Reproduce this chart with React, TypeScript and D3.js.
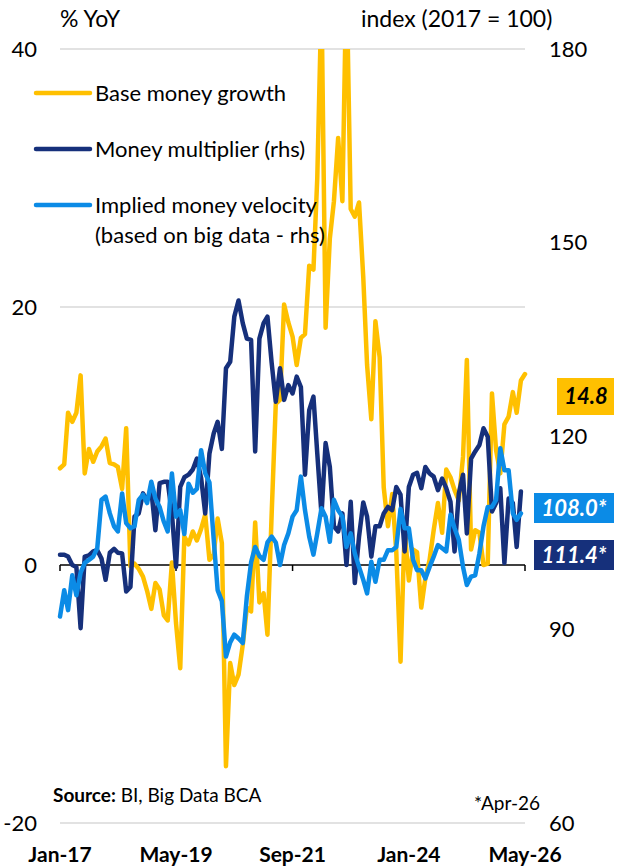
import React from 'react';
import * as d3 from 'd3';

// monthly, Jan-17 .. May-26 (% YoY)
const baseMoney = [
  7.5, 7.8, 11.8, 11.1, 11.8, 14.7, 7.1, 9.0, 8.0, 8.8, 9.2, 9.8,
  7.9, 7.8, 7.6, 5.9, 10.6, -0.1, 0.1, -0.3, -0.9, -2.0, -3.4, -1.4,
  -1.9, -3.9, -4.3, 0.2, -4.5, -8.0, 2.2, 1.6, 2.6, 1.9, 2.8, 3.9,
  0.4, 0.8, 3.6, 1.7, -15.6, -7.6, -9.3, -8.5, -6.2, -3.3, -3.6, 3.3,
  -2.9, -2.2, -5.4, 4.0, 12.5, 12.8, 20.2, 18.8, 17.7, 15.5, 17.6, 17.9,
  23.2, 22.9, 30.0, 44, 18.4, 25.3, 28.2, 33.1, 28.2, 46, 27.6, 27.0,
  28.1, 22.3, 15.5, 11.3, 18.9, 16.1, 6.0, 3.0, 5.5, 1.0, -7.5, 2.7,
  -1.2, 1.2, 1.0, -3.3, -1.0, 0.4, 2.7, 4.8, 2.5, 7.4, 6.8, 5.8,
  5.0, 8.4, 15.9, 1.2, 2.7, 2.5, 0.0, 0.1, 13.3, 8.9, 7.1, 10.9,
  11.5, 13.4, 11.8, 14.3, 14.8,
];

// index (2017 = 100), Jan-17 .. Apr-26
const multiplier = [
  101.6, 101.6, 101.3, 100.0, 99.7, 90.2, 101.3, 101.5, 102.1, 102.3, 101.0, 97.7,
  101.9, 102.5, 101.9, 101.8, 95.9, 96.6, 107.5, 108.0, 111.1, 110.1, 111.6, 105.4,
  112.7, 112.9, 112.9, 108.0, 99.7, 112.1, 113.6, 114.0, 114.8, 116.5, 113.5, 108.0,
  117.3, 120.4, 122.2, 118.0, 130.5, 131.5, 138.5, 141.0, 137.5, 135.1, 134.9, 117.6,
  135.1, 137.5, 138.5, 131.3, 125.3, 130.5, 125.6, 127.9, 126.6, 129.2, 127.6, 114.0,
  124.0, 126.1, 117.3, 107.8, 118.9, 115.2, 106.0, 105.2, 108.0, 100.0, 109.8, 97.2,
  104.4, 109.7, 107.5, 101.3, 106.0, 106.0, 108.0, 109.0, 108.5, 112.1, 110.9, 102.1,
  112.1, 114.0, 114.3, 111.9, 115.2, 114.2, 113.7, 111.6, 113.4, 111.9, 109.8, 102.1,
  111.1, 114.0, 104.9, 116.5, 117.6, 118.6, 121.2, 119.9, 108.3, 109.6, 111.9, 100.3,
  110.3, 109.6, 102.8, 111.4,
];

const velocity = [
  92.0, 96.1, 93.0, 98.4, 95.3, 98.8, 100.3, 100.8, 101.3, 102.6, 110.1, 110.6,
  108.0, 106.0, 105.2, 111.1, 106.5, 105.7, 106.0, 110.1, 110.9, 109.6, 112.9, 110.3,
  109.0, 106.7, 105.2, 114.2, 107.5, 108.5, 104.8, 112.6, 111.2, 111.8, 117.8, 114.2,
  112.8, 104.0, 96.1, 94.4, 85.8, 88.0, 89.2, 88.6, 87.9, 95.1, 100.4, 102.8,
  101.4, 100.8, 103.5, 104.4, 103.5, 100.0, 103.1, 104.9, 107.5, 108.5, 113.7, 108.5,
  104.4, 101.6, 104.9, 108.8, 107.5, 103.6, 110.1, 108.5, 107.5, 102.8, 104.9, 101.8,
  99.7, 97.7, 95.6, 100.5, 97.4, 100.8, 100.8, 102.3, 102.3, 102.8, 108.7, 105.7,
  105.7, 100.8, 99.2, 99.2, 97.9, 99.7, 101.3, 103.1, 102.6, 102.1, 107.8, 105.7,
  103.9, 99.7, 96.9, 98.2, 98.4, 101.8, 106.0, 109.0, 109.0, 110.1, 118.1, 114.7,
  114.7, 108.0, 107.0, 108.0,
];

const xTickLabels = ['Jan-17', 'May-19', 'Sep-21', 'Jan-24', 'May-26'];
const leftTicks = [-20, 0, 20, 40];
const rightTicks = [60, 90, 120, 150, 180];

const YELLOW = '#FFC000';
const NAVY = '#16307B';
const SKY = '#0B8BE6';
const FONT = "Lato, 'Liberation Sans', sans-serif";

const parseM = d3.timeParse('%b-%y');
const start = new Date(2017, 0, 1);
const months = d3.range(baseMoney.length).map((i) => d3.timeMonth.offset(start, i));

const App = () => {
  const margin = { top: 49, right: 92, bottom: 43, left: 60 };
  const width = 617;
  const height = 866;
  const plotBottom = height - margin.bottom;

  const x = d3.scaleTime()
    .domain([start, parseM('May-26') as Date])
    .range([margin.left, width - margin.right]);
  const yL = d3.scaleLinear().domain([-20, 40]).range([plotBottom, margin.top]);
  const yR = d3.scaleLinear().domain([60, 180]).range([plotBottom, margin.top]);

  const lineL = d3.line<number>()
    .x((d, i) => x(months[i]))
    .y((d) => yL(d));
  const lineR = d3.line<number>()
    .x((d, i) => x(months[i]))
    .y((d) => yR(d));

  const y0 = yL(0);
  const x0 = margin.left;
  const x1 = width - margin.right;

  const legend = [
    { color: YELLOW, lines: ['Base money growth'] },
    { color: NAVY, lines: ['Money multiplier (rhs)'] },
    { color: SKY, lines: ['Implied money velocity', '(based on big data - rhs)'] },
  ];

  const last = (a: number[]) => a[a.length - 1];

  return (
    <svg width={width} height={height}
      style={{ position: 'absolute', left: 0, top: 0, background: 'white' }}
      fontFamily={FONT}>
      <defs>
        <clipPath id="plot">
          <rect x={0} y={margin.top} width={width} height={plotBottom - margin.top} />
        </clipPath>
      </defs>

      {/* gridlines */}
      {leftTicks.filter((t) => t !== 0).map((t) => (
        <line key={t} x1={x0} x2={x1} y1={yL(t)} y2={yL(t)} stroke="#d9d9d9" strokeWidth={1.5} />
      ))}

      {/* axis titles */}
      <text x={60} y={27} fontSize={23} fill="#000">% YoY</text>
      <text x={361} y={27} fontSize={23} fill="#000">index (2017 = 100)</text>

      {leftTicks.map((t) => (
        <text key={t} x={37} y={yL(t)} dy="0.35em" textAnchor="end" fontSize={22}>{t}</text>
      ))}
      {rightTicks.map((t) => (
        <text key={t} x={549} y={yR(t)} dy="0.35em" fontSize={22}>{t}</text>
      ))}

      {/* zero axis */}
      <line x1={x0} x2={x1} y1={y0} y2={y0} stroke="#000" strokeWidth={1.5} />
      {xTickLabels.map((l) => {
        const xv = x(parseM(l) as Date);
        return <line key={l} x1={xv} x2={xv} y1={y0} y2={y0 + 6} stroke="#000" strokeWidth={1.5} />;
      })}

      <g clipPath="url(#plot)" fill="none" strokeWidth={4.5} strokeLinejoin="round" strokeLinecap="round">
        <path d={lineL(baseMoney) || ''} stroke={YELLOW} />
        <path d={lineR(multiplier) || ''} stroke={NAVY} />
        <path d={lineR(velocity) || ''} stroke={SKY} />
      </g>

      {/* legend */}
      {legend.map((l, i) => {
        const ly = 93 + i * 56;
        return (
          <g key={i}>
            <line x1={36} x2={90} y1={ly} y2={ly} stroke={l.color} strokeWidth={4.5} strokeLinecap="round" />
            {l.lines.map((s, j) => (
              <text key={j} x={95} y={ly + j * 30} dy="0.35em" fontSize={22}>{s}</text>
            ))}
          </g>
        );
      })}

      {/* x labels */}
      {xTickLabels.map((l) => (
        <text key={l} x={x(parseM(l) as Date)} y={855} dy="0.35em" textAnchor="middle"
          fontSize={21} fontWeight="bold">{l}</text>
      ))}

      <text x={53} y={795} dy="0.35em" fontSize={19}>
        <tspan fontWeight="bold">Source:</tspan> BI, Big Data BCA
      </text>
      <text x={474} y={803} dy="0.35em" fontSize={19}>*Apr-26</text>

      {/* end labels */}
      <rect x={557} y={378} width={57} height={37} fill={YELLOW} />
      <text x={586} y={396.5} dy="0.35em" textAnchor="middle" fontSize={22}
        fontWeight="bold" fontStyle="italic" fill="#000">{last(baseMoney).toFixed(1)}</text>

      <rect x={534} y={493} width={80} height={30} fill={SKY} />
      <text x={574} y={508} dy="0.35em" textAnchor="middle" fontSize={22}
        fontWeight="bold" fontStyle="italic" fill="#fff">{last(velocity).toFixed(1)}*</text>

      <rect x={534} y={540} width={80} height={30} fill={NAVY} />
      <text x={574} y={555} dy="0.35em" textAnchor="middle" fontSize={22}
        fontWeight="bold" fontStyle="italic" fill="#fff">{last(multiplier).toFixed(1)}*</text>
    </svg>
  );
};

export default App;
